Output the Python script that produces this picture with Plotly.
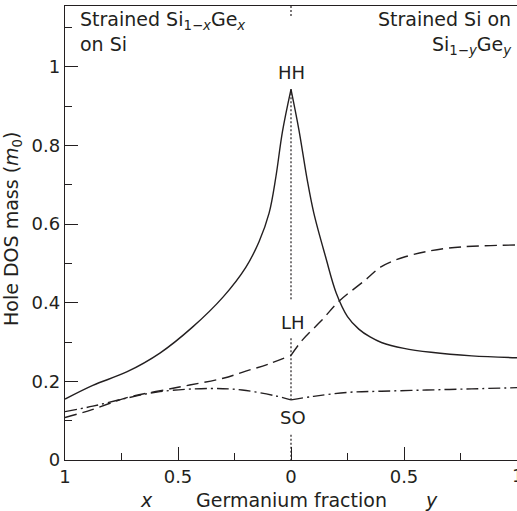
import plotly.graph_objects as go

# ---- data ----
# Left half: strained Si(1-x)Ge(x) on Si, Ge fraction x (plotted leftwards)
hh_left_x = [1.0, 0.877, 0.727, 0.58, 0.436, 0.3, 0.2, 0.141, 0.097, 0.067, 0.038, 0.0]
hh_left_m = [0.155, 0.19, 0.224, 0.272, 0.338, 0.415, 0.49, 0.556, 0.628, 0.72, 0.835, 0.943]
lh_left_x = [1.0, 0.88, 0.73, 0.5, 0.3, 0.2, 0.1, 0.0]
lh_left_m = [0.108, 0.128, 0.158, 0.185, 0.208, 0.226, 0.244, 0.266]
so_left_x = [1.0, 0.877, 0.73, 0.58, 0.36, 0.216, 0.067, 0.0]
so_left_m = [0.123, 0.137, 0.157, 0.174, 0.182, 0.178, 0.163, 0.153]

# Right half: strained Si on Si(1-y)Ge(y), Ge fraction y
hh_right_y = [0.0, 0.035, 0.072, 0.101, 0.153, 0.2, 0.25, 0.3, 0.35, 0.4, 0.5, 0.62, 0.8, 1.0]
hh_right_m = [0.943, 0.84, 0.712, 0.628, 0.517, 0.425, 0.365, 0.333, 0.313, 0.299, 0.284, 0.274, 0.265, 0.26]
lh_right_y = [0.0, 0.05, 0.137, 0.211, 0.329, 0.4, 0.505, 0.696, 1.0]
lh_right_m = [0.266, 0.305, 0.356, 0.403, 0.458, 0.492, 0.517, 0.539, 0.547]
so_right_y = [0.0, 0.1, 0.25, 0.4, 0.6, 0.8, 1.0]
so_right_m = [0.153, 0.162, 0.172, 0.175, 0.178, 0.181, 0.184]

# dotted divider at zero Ge fraction (segments between labels)
div_m = [1.155, 1.127, None, 0.943, 0.407, None, 0.31, 0.153, None, 0.064, 0.0]

tick_vals = [-1, -0.5, 0, 0.5]
tick_text = ["1", "0.5", "0", "0.5"]

INK = "#231f20"
FONT = "DejaVu Sans"

fig = go.Figure()

def add(xs, ms, dash, flip):
    fig.add_trace(go.Scatter(
        x=[-v for v in xs] if flip else xs, y=ms, mode="lines",
        line=dict(color=INK, width=1.4, dash=dash, shape="spline", smoothing=1.0),
        showlegend=False, hoverinfo="skip"))

add(hh_left_x, hh_left_m, "solid", True)
add(hh_right_y, hh_right_m, "solid", False)
add(lh_left_x, lh_left_m, "12px,6px", True)
add(lh_right_y, lh_right_m, "12px,6px", False)
add(so_left_x, so_left_m, "12px,4px,2px,4px", True)
add(so_right_y, so_right_m, "12px,4px,2px,4px", False)

fig.add_trace(go.Scatter(
    x=[0 if m is not None else None for m in div_m], y=div_m, mode="lines",
    line=dict(color=INK, width=1.2, dash="2px,2px"),
    showlegend=False, hoverinfo="skip", connectgaps=False))

ann = []
def text(x, y, s, xref="x", yref="y", xanchor="center", yanchor="middle", align="center", size=19, angle=0):
    ann.append(dict(x=x, y=y, xref=xref, yref=yref, text=s, showarrow=False,
                    xanchor=xanchor, yanchor=yanchor, align=align, textangle=angle,
                    font=dict(family=FONT, size=size, color=INK)))

text(0, 0.987, "HH", size=18)
text(0.01, 0.351, "LH", size=18)
text(0.01, 0.109, "SO", size=18)
text(0.029, 1.0, "Strained Si<sub>1−<i>x</i></sub>Ge<sub><i>x</i></sub><br>on Si",
     xref="paper", yref="paper", xanchor="left", yanchor="top", align="left")
text(0.993, 1.0, "Strained Si on<br>Si<sub>1−<i>y</i></sub>Ge<sub><i>y</i></sub>",
     xref="paper", yref="paper", xanchor="right", yanchor="top", align="right")
text(-0.115, 0.509, "Hole DOS mass (<i>m</i><sub>0</sub>)", xref="paper", yref="paper", angle=-90)
text(0.0, -0.088, "Germanium fraction", xref="x", yref="paper")
text(-0.639, -0.088, "<i>x</i>", xref="x", yref="paper")
text(0.62, -0.088, "<i>y</i>", xref="x", yref="paper")
text(1.0, -0.034, "1", xref="x", yref="paper", size=18)

fig.update_layout(
    width=517, height=511,
    margin=dict(l=65, r=0, t=6, b=51),
    paper_bgcolor="white", plot_bgcolor="white",
    annotations=ann,
    xaxis=dict(range=[-1, 1], tickvals=tick_vals, ticktext=tick_text,
               ticks="inside", ticklen=13, tickwidth=1.2, tickcolor=INK,
               minor=dict(dtick=0.25, tick0=0, ticks="inside", ticklen=7, tickwidth=1.2, tickcolor=INK),
               showline=True, linecolor=INK, linewidth=1.4, mirror=True,
               showgrid=False, zeroline=False,
               tickfont=dict(family=FONT, size=18, color=INK)),
    yaxis=dict(range=[0, 1.155], tickvals=[0, 0.2, 0.4, 0.6, 0.8, 1.0],
               ticktext=["0", "0.2", "0.4", "0.6", "0.8", "1"],
               ticks="inside", ticklen=13, tickwidth=1.2, tickcolor=INK,
               minor=dict(dtick=0.1, tick0=0, ticks="inside", ticklen=7, tickwidth=1.2, tickcolor=INK),
               showline=True, linecolor=INK, linewidth=1.4,
               showgrid=False, zeroline=False,
               tickfont=dict(family=FONT, size=18, color=INK)),
)

fig.write_html("out.html", config={"displayModeBar": False},
               post_script="document.body.style.margin='0';document.body.style.overflow='hidden';")
